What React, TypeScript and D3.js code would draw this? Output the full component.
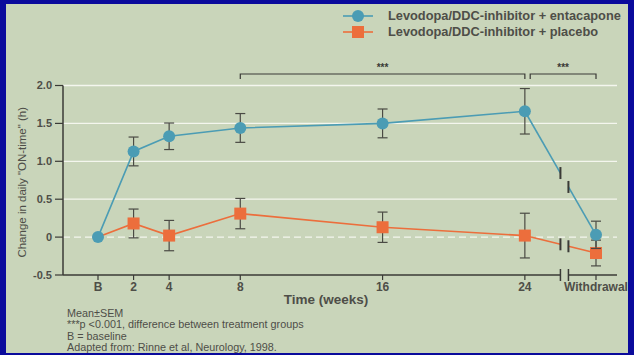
import * as d3 from "d3";

// ---------------- data ----------------
const timeLabels = ["B", "2", "4", "8", "16", "24", "Withdrawal"];
const timeWeeks = [0, 2, 4, 8, 16, 24, 28]; // withdrawal drawn after the axis break
const entacaponeMean = [0, 1.13, 1.33, 1.44, 1.5, 1.66, 0.03];
const entacaponeSem = [0, 0.19, 0.175, 0.19, 0.19, 0.3, 0.18];
const placeboMean = [0, 0.18, 0.02, 0.31, 0.13, 0.02, -0.21];
const placeboSem = [0, 0.19, 0.2, 0.2, 0.2, 0.295, 0.17];
const yTicks = [-0.5, 0, 0.5, 1.0, 1.5, 2.0];
const yTickLabels = ["-0.5", "0", "0.5", "1.0", "1.5", "2.0"];
const axisBreak = [26, 26.45];
const brackets = [
  { from: 8, to: 24, label: "***" },
  { from: 24.3, to: 28, label: "***" },
];
const footnotes = [
  "Mean\u00b1SEM",
  "***p <0.001, difference between treatment groups",
  "B = baseline",
  "Adapted from: Rinne et al, Neurology, 1998.",
];
const legendItems = [
  { name: "Levodopa/DDC-inhibitor + entacapone", shape: "circle" },
  { name: "Levodopa/DDC-inhibitor + placebo", shape: "square" },
];

const W = 634;
const H = 355;
const BLUE = "#4b9cb4";
const ORANGE = "#ec6e3c";
const INK = "#3a3a36";
const TEXT = "#4e4e48";
const FONT = "'Liberation Sans', Arial, sans-serif";

const App = () => {
  const x = d3.scaleLinear().domain([0, 28]).range([98, 596]);
  const y = d3.scaleLinear().domain([-0.5, 2.0]).range([275, 85.5]);
  const axisX = 63;
  const gridEnd = 617;

  const series = [
    { mean: placeboMean, sem: placeboSem, color: ORANGE, shape: "square" },
    { mean: entacaponeMean, sem: entacaponeSem, color: BLUE, shape: "circle" },
  ];

  const line = d3
    .line<number>()
    .x((_, i) => x(timeWeeks[i]))
    .y((d) => y(d));

  // point on the straight segment from 24 weeks to withdrawal, at week w
  const interp = (mean: number[], w: number) => {
    const a = mean[5];
    const b = mean[6];
    const t = (w - timeWeeks[5]) / (timeWeeks[6] - timeWeeks[5]);
    return a + (b - a) * t;
  };

  return (
    <svg
      width={W}
      height={H}
      style={{ position: "absolute", left: 0, top: 0, fontFamily: FONT }}
    >
      <rect x={0} y={0} width={W} height={H} fill="#0a0a9c" />
      <rect x={6} y={4} width={622} height={349} fill="#c9d5ba" />

      {/* grid */}
      {yTicks
        .filter((t) => t > 0)
        .map((t) => (
          <line
            key={"g" + t}
            x1={axisX}
            x2={gridEnd}
            y1={y(t)}
            y2={y(t)}
            stroke="#f4f6ee"
            strokeWidth={1.3}
          />
        ))}
      <line
        x1={axisX}
        x2={gridEnd}
        y1={y(0)}
        y2={y(0)}
        stroke="#f4f6ee"
        strokeWidth={1.3}
        strokeDasharray="7,4"
      />

      {/* y axis */}
      <line x1={axisX} x2={axisX} y1={y(2.0)} y2={y(-0.5)} stroke={INK} strokeWidth={1.5} />
      {yTicks.map((t, i) => (
        <g key={"yt" + t}>
          <line x1={axisX - 8} x2={axisX} y1={y(t)} y2={y(t)} stroke={INK} strokeWidth={1.2} />
          <text
            x={axisX - 11}
            y={y(t)}
            dy="0.35em"
            textAnchor="end"
            fontSize={11}
            fontWeight="bold"
            fill={TEXT}
          >
            {yTickLabels[i]}
          </text>
        </g>
      ))}
      <text
        transform={`translate(26,${(y(2) + y(-0.5)) / 2 + 2}) rotate(-90)`}
        textAnchor="middle"
        fontSize={11.5}
        fill={TEXT}
      >
        Change in daily "ON-time" (h)
      </text>

      {/* x axis with break */}
      <line x1={axisX} x2={x(axisBreak[0])} y1={y(-0.5)} y2={y(-0.5)} stroke={INK} strokeWidth={1.5} />
      <line x1={x(axisBreak[1])} x2={gridEnd} y1={y(-0.5)} y2={y(-0.5)} stroke={INK} strokeWidth={1.5} />
      {axisBreak.map((w) => (
        <line
          key={"xb" + w}
          x1={x(w)}
          x2={x(w)}
          y1={y(-0.5) - 6}
          y2={y(-0.5) + 6}
          stroke={INK}
          strokeWidth={1.5}
        />
      ))}
      {timeWeeks.map((w, i) => (
        <g key={"xt" + i}>
          <line x1={x(w)} x2={x(w)} y1={y(-0.5)} y2={y(-0.5) + 5} stroke={INK} strokeWidth={1.2} />
          <text
            x={x(w)}
            y={y(-0.5) + 16}
            textAnchor="middle"
            fontSize={12}
            fontWeight="bold"
            fill={TEXT}
          >
            {timeLabels[i]}
          </text>
        </g>
      ))}
      <text x={326} y={304} textAnchor="middle" fontSize={13.5} fontWeight="bold" fill={TEXT}>
        Time (weeks)
      </text>

      {/* series */}
      {series.map((s, si) => {
        const mainPart = s.mean.slice(0, 6);
        const b0 = interp(s.mean, axisBreak[0]);
        const b1 = interp(s.mean, axisBreak[1]);
        return (
          <g key={"s" + si}>
            <path d={line(mainPart) || ""} fill="none" stroke={s.color} strokeWidth={1.6} />
            <line
              x1={x(timeWeeks[5])}
              y1={y(s.mean[5])}
              x2={x(axisBreak[0])}
              y2={y(b0)}
              stroke={s.color}
              strokeWidth={1.6}
            />
            <line
              x1={x(axisBreak[1])}
              y1={y(b1)}
              x2={x(timeWeeks[6])}
              y2={y(s.mean[6])}
              stroke={s.color}
              strokeWidth={1.6}
            />
            {[b0, b1].map((v, k) => (
              <line
                key={"bt" + k}
                x1={x(axisBreak[k])}
                x2={x(axisBreak[k])}
                y1={y(v) - 6}
                y2={y(v) + 6}
                stroke={INK}
                strokeWidth={2}
              />
            ))}
            {s.mean.map((m, i) =>
              s.sem[i] > 0 ? (
                <g key={"e" + i} stroke="#4a4a44" strokeWidth={1.2}>
                  <line x1={x(timeWeeks[i])} x2={x(timeWeeks[i])} y1={y(m + s.sem[i])} y2={y(m - s.sem[i])} />
                  <line x1={x(timeWeeks[i]) - 5} x2={x(timeWeeks[i]) + 5} y1={y(m + s.sem[i])} y2={y(m + s.sem[i])} />
                  <line x1={x(timeWeeks[i]) - 5} x2={x(timeWeeks[i]) + 5} y1={y(m - s.sem[i])} y2={y(m - s.sem[i])} />
                </g>
              ) : null
            )}
            {s.mean.map((m, i) => {
              if (s.shape === "circle") {
                return <circle key={"m" + i} cx={x(timeWeeks[i])} cy={y(m)} r={6} fill={s.color} />;
              }
              if (i === 0) return null;
              return (
                <rect
                  key={"m" + i}
                  x={x(timeWeeks[i]) - 6}
                  y={y(m) - 6}
                  width={12}
                  height={12}
                  fill={s.color}
                />
              );
            })}
          </g>
        );
      })}

      {/* significance brackets */}
      {brackets.map((b, i) => (
        <g key={"br" + i}>
          <path
            d={`M${x(b.from)},79 V74 H${x(b.to)} V79`}
            fill="none"
            stroke={INK}
            strokeWidth={1.2}
          />
          <text x={(x(b.from) + x(b.to)) / 2} y={71} textAnchor="middle" fontSize={10} fontWeight="bold" fill={INK}>
            {b.label}
          </text>
        </g>
      ))}

      {/* legend */}
      {legendItems.map((item, i) => {
        const ly = 16 + i * 16;
        const color = item.shape === "circle" ? BLUE : ORANGE;
        return (
          <g key={"lg" + i}>
            <line x1={343} x2={373} y1={ly} y2={ly} stroke={color} strokeWidth={1.6} />
            {item.shape === "circle" ? (
              <circle cx={358} cy={ly} r={6} fill={color} />
            ) : (
              <rect x={352} y={ly - 6} width={12} height={12} fill={color} />
            )}
            <text x={388} y={ly} dy="0.35em" fontSize={12.8} fontWeight="bold" fill={TEXT}>
              {item.name}
            </text>
          </g>
        );
      })}

      {/* footnotes */}
      {footnotes.map((f, i) => (
        <text key={"fn" + i} x={67} y={317 + i * 11.3} fontSize={10.8} fill={TEXT}>
          {f}
        </text>
      ))}
    </svg>
  );
};

export default App;
